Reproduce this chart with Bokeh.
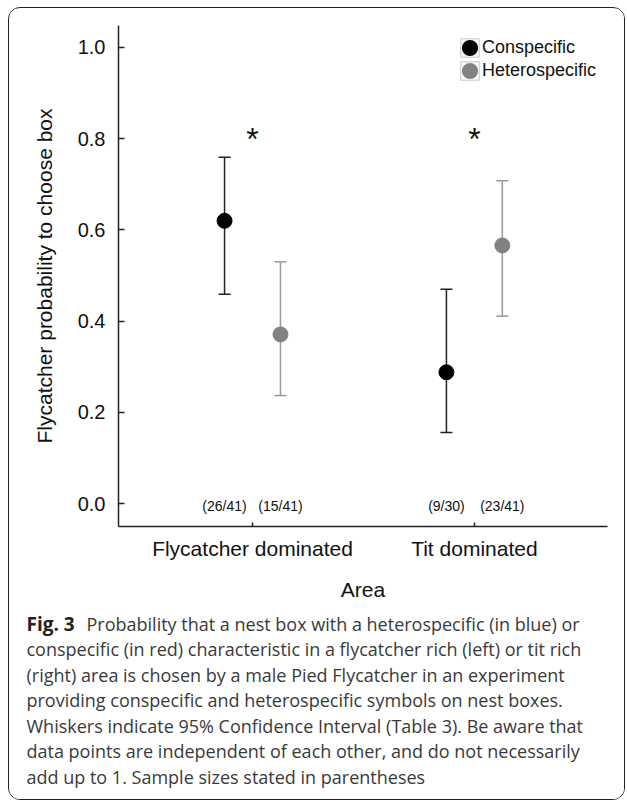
from bokeh.plotting import figure
from bokeh.layouts import column, row
from bokeh.models import (Range1d, FixedTicker, Whisker, TeeHead, ColumnDataSource,
                          Legend, LegendItem, Label, NumeralTickFormatter, Spacer)
from bokeh.core.properties import value
from bokeh.embed import file_html
from bokeh.resources import INLINE

# ---------------- data ----------------
areas = ["Flycatcher dominated", "Tit dominated"]
series = ["Conspecific", "Heterospecific"]

con_p = [0.620, 0.288]
con_lo = [0.459, 0.156]
con_hi = [0.759, 0.470]
con_n = ["(26/41)", "(9/30)"]

het_p = [0.371, 0.566]
het_lo = [0.237, 0.411]
het_hi = [0.530, 0.708]
het_n = ["(15/41)", "(23/41)"]

sig_text = ["*", "*"]
sig_y = [0.80, 0.80]

y_ticks = [0.0, 0.2, 0.4, 0.6, 0.8, 1.0]

caption_title = "Fig. 3"
caption_lines = [
    "Probability that a nest box with a heterospecific (in blue) or",
    "conspecific (in red) characteristic in a flycatcher rich (left) or tit rich",
    "(right) area is chosen by a male Pied Flycatcher in an experiment",
    "providing conspecific and heterospecific symbols on nest boxes.",
    "Whiskers indicate 95% Confidence Interval (Table 3). Be aware that",
    "data points are independent of each other, and do not necessarily",
    "add up to 1. Sample sizes stated in parentheses",
]

# ---------------- layout constants ----------------
W = 615
H1 = 600
H2 = 191
DODGE = 0.126
FONT = "Liberation Sans"
CAP_FONT = "Open Sans"

x_pos = [i + 1 for i in range(len(areas))]
base_y = [y_ticks[0]] * len(areas)

con_src = ColumnDataSource(dict(x=[v - DODGE for v in x_pos], p=con_p, lo=con_lo, hi=con_hi,
                                n=con_n, ny=base_y))
het_src = ColumnDataSource(dict(x=[v + DODGE for v in x_pos], p=het_p, lo=het_lo, hi=het_hi,
                                n=het_n, ny=base_y))
sig_src = ColumnDataSource(dict(x=x_pos, y=sig_y, t=sig_text))

p = figure(width=W, height=H1, output_backend="svg", toolbar_location=None,
           x_range=Range1d(0.396, 2.6), y_range=Range1d(-0.05, 1.048),
           min_border_left=109, min_border_right=17, min_border_top=17, min_border_bottom=82,
           x_axis_label="Area", y_axis_label="Flycatcher probability to choose box")
p.frame_align = False
p.outline_line_color = None
p.xgrid.grid_line_color = None
p.ygrid.grid_line_color = None
p.background_fill_color = "white"
p.border_fill_color = "white"

# axes
p.xaxis.ticker = FixedTicker(ticks=x_pos)
p.xaxis.major_label_overrides = {x: a for x, a in zip(x_pos, areas)}
p.yaxis.ticker = FixedTicker(ticks=y_ticks)
p.yaxis.formatter = NumeralTickFormatter(format="0.0")
for ax in (p.xaxis[0], p.yaxis[0]):
    ax.axis_line_color = "#222222"
    ax.axis_line_width = 1.5
    ax.major_tick_line_color = "#222222"
    ax.major_tick_line_width = 1.5
    ax.minor_tick_line_color = None
    ax.major_tick_out = 0
    ax.major_label_text_font = FONT
    ax.major_label_text_color = "#111111"
    ax.axis_label_text_font = FONT
    ax.axis_label_text_font_style = "normal"
    ax.axis_label_text_font_size = "21px"
    ax.axis_label_text_color = "#111111"
p.xaxis.major_tick_in = 4
p.yaxis.major_tick_in = 6
p.xaxis.major_label_text_font_size = "21px"
p.yaxis.major_label_text_font_size = "20px"
p.xaxis.major_label_standoff = 10
p.yaxis.major_label_standoff = 13
p.xaxis.axis_label_standoff = 15
p.yaxis.axis_label_standoff = 19

# whiskers
for src, col in ((con_src, "#222222"), (het_src, "#9a9a9a")):
    w = Whisker(source=src, base="x", upper="hi", lower="lo", dimension="height",
                line_color=col, line_width=1.5, level="underlay",
                upper_head=TeeHead(size=12, line_color=col, line_width=1.5),
                lower_head=TeeHead(size=12, line_color=col, line_width=1.5))
    p.add_layout(w)

# points
p.scatter("x", "p", source=con_src, size=15, fill_color="black", line_color="black")
p.scatter("x", "p", source=het_src, size=15, fill_color="#828282", line_color="#828282")

# sample sizes
for src in (con_src, het_src):
    p.text("x", "ny", text="n", source=src, text_font=value(FONT), text_font_size="14px",
           text_align="center", text_baseline="middle", text_color="#111111", y_offset=2)

# significance stars
p.text("x", "y", text="t", source=sig_src, text_font=value(FONT), text_font_size="32px",
       text_align="center", text_baseline="middle", text_color="#111111")

# legend proxies (not drawn in the plot)
leg_con_box = p.rect("x", "p", width=0, height=0, source=con_src, fill_color=None,
                     line_color="#c4c4c4", line_width=1, visible=False)
leg_con_dot = p.scatter("x", "p", source=con_src, size=9, fill_color="black",
                        line_color="black", line_width=7, visible=False)
leg_het_box = p.rect("x", "p", width=0, height=0, source=het_src, fill_color=None,
                     line_color="#c4c4c4", line_width=1, visible=False)
leg_het_dot = p.scatter("x", "p", source=het_src, size=9, fill_color="#828282",
                        line_color="#828282", line_width=7, visible=False)

legend = Legend(items=[LegendItem(label=series[0], renderers=[leg_con_box, leg_con_dot]),
                       LegendItem(label=series[1], renderers=[leg_het_box, leg_het_dot])],
                location=(340, 444), orientation="vertical", glyph_width=23, glyph_height=23,
                spacing=-4, padding=0, margin=0, label_standoff=1, label_height=19,
                label_text_font=FONT, label_text_font_size="18px", label_text_color="#111111",
                background_fill_alpha=0, border_line_alpha=0)
p.add_layout(legend)

# ---------------- caption panel ----------------
c = figure(width=W, height=H2, output_backend="svg", toolbar_location=None,
           x_range=Range1d(0, W), y_range=Range1d(H2, 0),
           x_axis_type=None, y_axis_type=None,
           min_border_left=0, min_border_right=0, min_border_top=0, min_border_bottom=0)
c.frame_align = False
c.outline_line_color = None
c.grid.visible = False
c.background_fill_color = "white"
c.border_fill_color = "white"

CAP_SIZE = "18px"
CAP_Y0 = 15
CAP_STEP = 25.5
CAP_X = 17
c.add_layout(Label(x=CAP_X, y=CAP_Y0, text=caption_title,
                   text_font=CAP_FONT, text_font_style="bold", text_font_size="19px",
                   text_color="#222222", text_baseline="alphabetic"))
for i, line in enumerate(caption_lines):
    c.add_layout(Label(x=77 if i == 0 else CAP_X, y=CAP_Y0 + i * CAP_STEP,
                       text=line, text_font=CAP_FONT, text_font_size=CAP_SIZE,
                       text_color="#3a3a3a", text_baseline="alphabetic"))

inner = column(p, c, spacing=0,
               styles={"border": "1px solid #222222", "border-radius": "12px",
                       "overflow": "hidden", "background-color": "white"})
root = row(Spacer(width=8), column(Spacer(height=7), inner, spacing=0), spacing=0)

open("out.html", "w").write(file_html(root, INLINE))
